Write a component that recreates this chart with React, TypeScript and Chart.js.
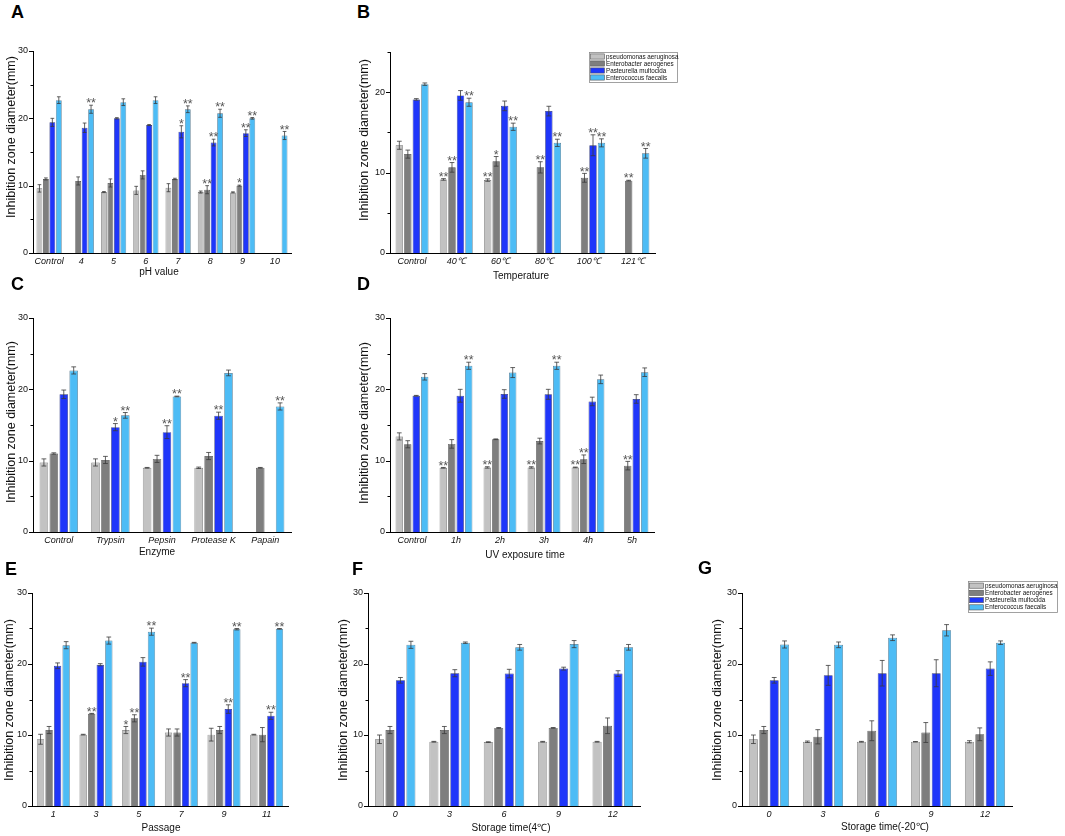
import React, { useEffect, useRef } from 'react';
import { Chart, registerables } from 'chart.js';
Chart.register(...registerables);

const FONT = 'Arial, "Liberation Sans", Helvetica, sans-serif';

const SERIES = ['pseudomonas aeruginosa', 'Enterobacter aerogenes', 'Pasteurella multocida', 'Enterococcus faecalis'];
const COLORS = ['#c2c2c2', '#7e7e7e', '#1f36fa', '#4dbcf5'];
const BORDERS = ['#6a6a6a', '#4a4a4a', '#26307a', '#4a6f86'];

// ---------- A: pH ----------
const A_CATS = ['Control', '4', '5', '6', '7', '8', '9', '10'];
const A_MEANS = [
  [9.6, null, 9.05, 9.3, 9.7, 9.05, 9.0, null],
  [11.0, 10.7, 10.4, 11.6, 11.0, 9.4, 10.0, null],
  [19.4, 18.6, 20.0, 19.0, 18.0, 16.4, 17.8, null],
  [22.7, 21.35, 22.4, 22.7, 21.35, 20.75, 20.0, 17.45],
];
const A_ERRS = [
  [0.55, 0, 0.08, 0.6, 0.6, 0.15, 0.08, 0],
  [0.15, 0.6, 0.6, 0.6, 0.1, 0.6, 0.08, 0],
  [0.6, 0.7, 0.1, 0.08, 0.9, 0.5, 0.5, 0],
  [0.5, 0.6, 0.5, 0.5, 0.5, 0.6, 0.12, 0.6],
];
const A_SIGS = [
  ['', '', '', '', '', '', '', ''],
  ['', '', '', '', '', '**', '*', ''],
  ['', '', '', '', '*', '**', '**', ''],
  ['', '**', '', '', '**', '**', '**', '**'],
];

// ---------- B: Temperature ----------
const B_CATS = ['Control', '40℃', '60℃', '80℃', '100℃', '121℃'];
const B_MEANS = [
  [13.4, 9.15, 9.07, null, null, null],
  [12.3, 10.65, 11.4, 10.65, 9.35, 9.0],
  [19.1, 19.6, 18.3, 17.65, 13.4, null],
  [21.0, 18.75, 15.7, 13.7, 13.7, 12.4],
];
const B_ERRS = [
  [0.5, 0.1, 0.15, 0, 0, 0],
  [0.5, 0.6, 0.6, 0.7, 0.55, 0.05],
  [0.1, 0.6, 0.6, 0.6, 1.3, 0],
  [0.15, 0.5, 0.45, 0.45, 0.5, 0.6],
];
const B_SIGS = [
  ['', '**', '**', '', '', ''],
  ['', '**', '*', '**', '**', '**'],
  ['', '', '', '', '**', ''],
  ['', '**', '**', '**', '**', '**'],
];

// ---------- C: Enzyme ----------
const C_CATS = ['Control', 'Trypsin', 'Pepsin', 'Protease K', 'Papain'];
const C_MEANS = [
  [9.75, 9.75, 9.0, 9.0, null],
  [11.0, 10.1, 10.25, 10.65, 9.0],
  [19.3, 14.7, 14.0, 16.3, null],
  [22.65, 16.35, 19.0, 22.3, 17.6],
];
const C_ERRS = [
  [0.5, 0.5, 0.05, 0.1, 0],
  [0.1, 0.5, 0.5, 0.5, 0.05],
  [0.6, 0.5, 0.9, 0.5, 0],
  [0.5, 0.4, 0.05, 0.4, 0.5],
];
const C_SIGS = [
  ['', '', '', '', ''],
  ['', '', '', '', ''],
  ['', '*', '**', '**', ''],
  ['', '**', '**', '', '**'],
];

// ---------- D: UV exposure ----------
const D_CATS = ['Control', '1h', '2h', '3h', '4h', '5h'];
const D_MEANS = [
  [13.4, 9.0, 9.05, 9.05, 9.05, null],
  [12.3, 12.35, 13.0, 12.75, 10.2, 9.3],
  [19.1, 19.1, 19.35, 19.3, 18.3, 18.65],
  [21.75, 23.3, 22.35, 23.3, 21.4, 22.4],
];
const D_ERRS = [
  [0.5, 0.05, 0.1, 0.1, 0.05, 0],
  [0.5, 0.6, 0.05, 0.4, 0.6, 0.6],
  [0.05, 0.9, 0.6, 0.7, 0.6, 0.6],
  [0.45, 0.5, 0.7, 0.5, 0.6, 0.6],
];
const D_SIGS = [
  ['', '**', '**', '**', '**', ''],
  ['', '', '', '', '**', '**'],
  ['', '', '', '', '', ''],
  ['', '**', '', '**', '', ''],
];

// ---------- E: Passage ----------
const E_CATS = ['1', '3', '5', '7', '9', '11'];
const E_MEANS = [
  [9.4, 10.05, 10.7, 10.35, 10.05, 10.05],
  [10.7, 13.0, 12.35, 10.35, 10.7, 10.05],
  [19.75, 19.9, 20.3, 17.3, 13.65, 12.7],
  [22.65, 23.3, 24.55, 23.0, 24.9, 24.95],
];
const E_ERRS = [
  [0.7, 0.05, 0.5, 0.5, 0.9, 0.05],
  [0.5, 0.05, 0.5, 0.5, 0.5, 1.0],
  [0.4, 0.15, 0.6, 0.5, 0.6, 0.5],
  [0.5, 0.5, 0.5, 0.05, 0.1, 0.05],
];
const E_SIGS = [
  ['', '', '*', '', '', ''],
  ['', '**', '**', '', '', ''],
  ['', '', '', '**', '**', '**'],
  ['', '', '**', '', '**', '**'],
];

// ---------- F: Storage 4℃ ----------
const F_CATS = ['0', '3', '6', '9', '12'];
const F_MEANS = [
  [9.4, 9.05, 9.0, 9.05, 9.05],
  [10.7, 10.7, 11.0, 11.0, 11.3],
  [17.7, 18.7, 18.65, 19.35, 18.65],
  [22.7, 23.0, 22.35, 22.8, 22.35],
];
const F_ERRS = [
  [0.6, 0.05, 0.05, 0.05, 0.05],
  [0.5, 0.5, 0.05, 0.05, 1.1],
  [0.4, 0.5, 0.6, 0.2, 0.4],
  [0.5, 0.1, 0.4, 0.5, 0.4],
];
const F_SIGS = [
  ['', '', '', '', ''],
  ['', '', '', '', ''],
  ['', '', '', '', ''],
  ['', '', '', '', ''],
];

// ---------- G: Storage -20℃ ----------
const G_CATS = ['0', '3', '6', '9', '12'];
const G_MEANS = [
  [9.4, 9.05, 9.05, 9.05, 9.05],
  [10.7, 9.75, 10.6, 10.35, 10.1],
  [17.7, 18.4, 18.7, 18.7, 19.35],
  [22.75, 22.7, 23.7, 24.75, 23.0],
];
const G_ERRS = [
  [0.6, 0.1, 0.05, 0.03, 0.15],
  [0.5, 1.0, 1.4, 1.4, 0.9],
  [0.4, 1.4, 1.8, 1.9, 0.95],
  [0.5, 0.4, 0.4, 0.8, 0.25],
];
const G_SIGS = F_SIGS;

const Y_TITLE = 'Inhibition zone diameter(mm)';

type PanelCfg = {
  letter: string; letterPos: [number, number];
  cats: string[]; means: (number | null)[][]; errs: number[][]; sigs: string[][];
  xTitle: string; yMax: number;
  chart: [number, number, number, number];
  yTitlePos: [number, number]; xTitlePos: [number, number];
  legend?: [number, number, number, number];
  catPct: number; barPct: number;
};

const PANELS: PanelCfg[] = [
  { letter: 'A', letterPos: [11, 5], cats: A_CATS, means: A_MEANS, errs: A_ERRS, sigs: A_SIGS, xTitle: 'pH value', yMax: 30,
    chart: [33, 51, 291, 253], yTitlePos: [12, 137], xTitlePos: [159, 272], catPct: 0.8, barPct: 0.9 },
  { letter: 'B', letterPos: [357, 5], cats: B_CATS, means: B_MEANS, errs: B_ERRS, sigs: B_SIGS, xTitle: 'Temperature', yMax: 25,
    chart: [390, 52, 655, 253], yTitlePos: [365, 140], xTitlePos: [521, 276], legend: [589, 52, 88, 30], catPct: 0.77, barPct: 0.87 },
  { letter: 'C', letterPos: [11, 277], cats: C_CATS, means: C_MEANS, errs: C_ERRS, sigs: C_SIGS, xTitle: 'Enzyme', yMax: 30,
    chart: [33, 318, 291, 532], yTitlePos: [12, 422], xTitlePos: [157, 552], catPct: 0.77, barPct: 0.86 },
  { letter: 'D', letterPos: [357, 277], cats: D_CATS, means: D_MEANS, errs: D_ERRS, sigs: D_SIGS, xTitle: 'UV exposure time', yMax: 30,
    chart: [390, 318, 654, 532], yTitlePos: [365, 423], xTitlePos: [525, 555], catPct: 0.77, barPct: 0.87 },
  { letter: 'E', letterPos: [5, 562], cats: E_CATS, means: E_MEANS, errs: E_ERRS, sigs: E_SIGS, xTitle: 'Passage', yMax: 30,
    chart: [32, 593, 288, 806], yTitlePos: [10, 700], xTitlePos: [161, 828], catPct: 0.8, barPct: 0.86 },
  { letter: 'F', letterPos: [352, 562], cats: F_CATS, means: F_MEANS, errs: F_ERRS, sigs: F_SIGS, xTitle: 'Storage time(4℃)', yMax: 30,
    chart: [368, 593, 640, 806], yTitlePos: [344, 700], xTitlePos: [511, 828], catPct: 0.77, barPct: 0.86 },
  { letter: 'G', letterPos: [698, 561], cats: G_CATS, means: G_MEANS, errs: G_ERRS, sigs: G_SIGS, xTitle: 'Storage time(-20℃)', yMax: 30,
    chart: [742, 593, 1012, 806], yTitlePos: [718, 700], xTitlePos: [885, 827], legend: [968, 581, 89, 31], catPct: 0.77, barPct: 0.86 },
];

function geometry(p: PanelCfg) {
  const [cl, ct, cr, cb] = p.chart;
  const left = Math.max(0, p.yTitlePos[0] - 12);
  let top = ct - 13;
  let right = cr + 4;
  if (p.legend) {
    top = Math.min(top, p.legend[1] - 3);
    right = Math.max(right, p.legend[0] + p.legend[2] + 3);
  }
  const bottom = p.xTitlePos[1] + 8;
  return { left, top, width: right - left, height: bottom - top, yW: cl - left, xH: bottom - cb, padTop: ct - top, padRight: right - cr };
}

function Panel({ p }: { p: PanelCfg }) {
  const ref = useRef<HTMLCanvasElement>(null);
  const g = geometry(p);
  useEffect(() => {
    const canvas = ref.current;
    if (!canvas) return;
    const extras = {
      id: 'extras' + p.letter,
      afterDatasetsDraw(chart: any) {
        const ctx = chart.ctx as CanvasRenderingContext2D;
        const ys = chart.scales.y;
        ctx.save();
        p.means.forEach((row, i) => {
          const meta = chart.getDatasetMeta(i);
          row.forEach((v, j) => {
            if (v == null) return;
            const el: any = meta.data[j];
            if (!el) return;
            const e = p.errs[i][j] || 0;
            const yt = ys.getPixelForValue(v + e);
            const yb = ys.getPixelForValue(v - e);
            const hw = Math.min(2.4, el.width * 0.32);
            ctx.strokeStyle = '#3a3a3a';
            ctx.lineWidth = 0.8;
            ctx.beginPath();
            ctx.moveTo(el.x, yt); ctx.lineTo(el.x, yb);
            ctx.moveTo(el.x - hw, yt); ctx.lineTo(el.x + hw, yt);
            ctx.moveTo(el.x - hw, yb); ctx.lineTo(el.x + hw, yb);
            ctx.stroke();
            const s = p.sigs[i][j];
            if (s) {
              ctx.fillStyle = '#555';
              ctx.font = `12.5px ${FONT}`;
              ctx.textAlign = 'center';
              ctx.textBaseline = 'alphabetic';
              ctx.fillText(s, el.x, yt + 2.2);
            }
          });
        });
        ctx.restore();
      },
      afterDraw(chart: any) {
        const ctx = chart.ctx as CanvasRenderingContext2D;
        const ys = chart.scales.y;
        const ax = chart.chartArea.left;
        ctx.save();
        // y tick marks: major at labelled values, shorter minor ticks between
        ctx.strokeStyle = '#000';
        ctx.lineWidth = 1;
        ctx.beginPath();
        ys.ticks.forEach((t: any) => {
          const y = Math.round(ys.getPixelForValue(t.value)) + 0.5;
          const len = t.value % 10 === 0 ? 4 : 2.5;
          ctx.moveTo(ax - len, y);
          ctx.lineTo(ax, y);
        });
        ctx.stroke();
        // y title
        ctx.fillStyle = '#111';
        ctx.font = `12.5px ${FONT}`;
        ctx.textAlign = 'center';
        ctx.textBaseline = 'middle';
        ctx.translate(p.yTitlePos[0] - g.left, p.yTitlePos[1] - g.top);
        ctx.rotate(-Math.PI / 2);
        ctx.fillText(Y_TITLE, 0, 0);
        ctx.restore();
        ctx.save();
        ctx.fillStyle = '#111';
        ctx.font = `10px ${FONT}`;
        ctx.textAlign = 'center';
        ctx.textBaseline = 'middle';
        ctx.fillText(p.xTitle, p.xTitlePos[0] - g.left, p.xTitlePos[1] - g.top);
        // legend
        if (p.legend) {
          const [lx0, ly0, lw, lh] = p.legend;
          const lx = lx0 - g.left, ly = ly0 - g.top;
          ctx.strokeStyle = '#8a8a8a';
          ctx.lineWidth = 0.8;
          ctx.strokeRect(lx + 0.5, ly + 0.5, lw, lh);
          const rowH = (lh - 2) / 4;
          SERIES.forEach((name, i) => {
            const cy = ly + 1 + rowH * (i + 0.5);
            ctx.fillStyle = COLORS[i];
            ctx.fillRect(lx + 1.5, cy - 2.6, 14, 5.2);
            ctx.strokeStyle = '#555';
            ctx.lineWidth = 0.6;
            ctx.strokeRect(lx + 1.5, cy - 2.6, 14, 5.2);
            ctx.fillStyle = '#111';
            ctx.font = `6.3px ${FONT}`;
            ctx.textAlign = 'left';
            ctx.textBaseline = 'middle';
            ctx.fillText(name, lx + 17, cy + 0.3);
          });
        }
        ctx.restore();
      },
    };
    const chart = new Chart(canvas, {
      type: 'bar',
      data: {
        labels: p.cats,
        datasets: p.means.map((row, i) => ({
          label: SERIES[i],
          data: row as any,
          backgroundColor: COLORS[i],
          borderColor: BORDERS[i],
          borderWidth: 0.7,
          categoryPercentage: p.catPct,
          barPercentage: p.barPct,
        })),
      },
      options: {
        animation: false,
        responsive: false,
        events: [],
        layout: { padding: { top: g.padTop, right: g.padRight, left: 0, bottom: 0 } },
        plugins: { legend: { display: false }, tooltip: { enabled: false } },
        scales: {
          x: {
            offset: true,
            grid: { display: false, drawTicks: false },
            border: { display: true, color: '#000', width: 1 },
            ticks: { color: '#111', font: { family: FONT, size: 9, style: 'italic' }, padding: 3, maxRotation: 0, autoSkip: false },
            afterFit: (s: any) => { s.height = g.xH; },
          },
          y: {
            min: 0, max: p.yMax,
            ticks: { stepSize: 5, color: '#111', font: { family: FONT, size: 9 }, padding: 5,
              callback: (v: any) => (Number(v) % 10 === 0 ? String(v) : '') },
            grid: { display: false, drawTicks: false },
            border: { display: true, color: '#000', width: 1 },
            afterFit: (s: any) => { s.width = g.yW; },
          },
        },
      },
      plugins: [extras],
    });
    return () => chart.destroy();
  }, []);
  return (
    <canvas ref={ref} width={g.width} height={g.height}
      style={{ position: 'absolute', left: g.left, top: g.top, width: g.width, height: g.height }} />
  );
}

export default function App() {
  return (
    <div style={{ position: 'absolute', left: 0, top: 0, width: 1065, height: 836, background: '#fff', overflow: 'hidden' }}>
      {PANELS.map((p) => (
        <React.Fragment key={p.letter}>
          <Panel p={p} />
          <div style={{ position: 'absolute', left: p.letterPos[0], top: p.letterPos[1] - 2.4, font: `bold 18px ${FONT}`, lineHeight: '18px', color: '#000' }}>
            {p.letter}
          </div>
        </React.Fragment>
      ))}
    </div>
  );
}
